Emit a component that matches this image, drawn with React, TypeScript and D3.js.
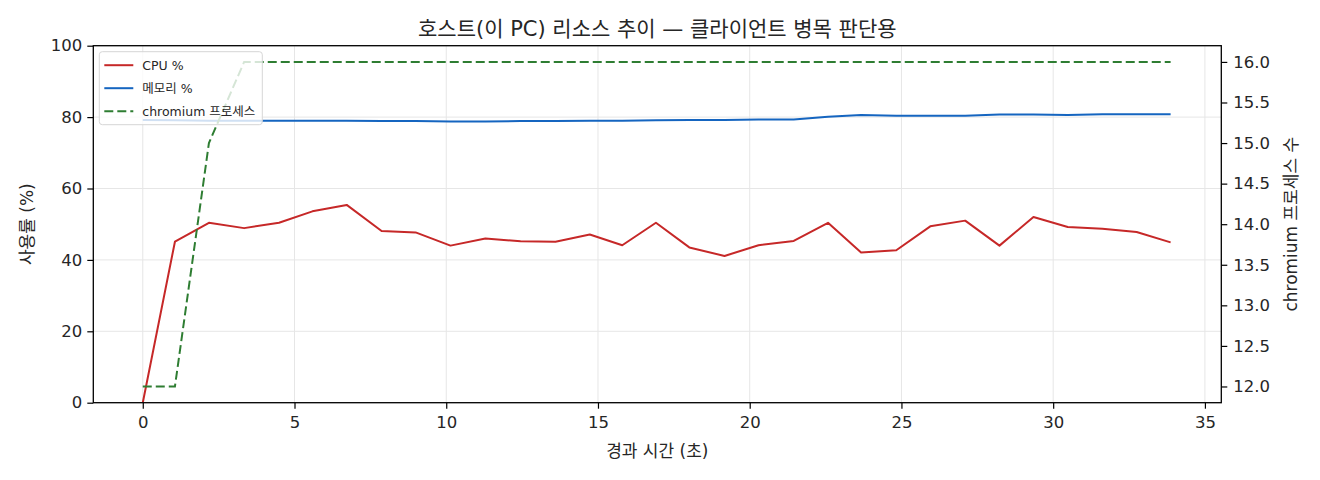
import { useEffect, useRef } from 'react';
import * as d3 from 'd3';

// elapsed time (s)
const times = [
  0, 1.06, 2.18, 3.34, 4.49, 5.59, 6.72, 7.87, 8.99, 10.14, 11.29, 12.45, 13.6, 14.73, 15.8,
  16.91, 18.01, 19.17, 20.29, 21.45, 22.58, 23.67, 24.83, 25.95, 27.1, 28.23, 29.35, 30.48,
  31.62, 32.75, 33.87,
];
const cpuPct = [
  0, 45.1, 50.4, 48.9, 50.4, 53.6, 55.4, 48.1, 47.7, 44.0, 46.0, 45.2, 45.1, 47.1, 44.1, 50.4,
  43.5, 41.1, 44.1, 45.3, 50.4, 42.1, 42.7, 49.4, 51.0, 44.0, 52.0, 49.2, 48.7, 47.8, 44.9,
];
const memPct = [
  79.2, 79.1, 79.0, 79.0, 79.0, 79.0, 79.0, 78.9, 78.9, 78.8, 78.8, 78.9, 78.9, 79.0, 79.0, 79.1,
  79.2, 79.2, 79.3, 79.3, 80.1, 80.6, 80.4, 80.4, 80.4, 80.7, 80.7, 80.6, 80.8, 80.8, 80.8,
];
const chromiumProcs = [
  12, 12, 15, 16, 16, 16, 16, 16, 16, 16, 16, 16, 16, 16, 16, 16, 16, 16, 16, 16, 16, 16, 16, 16,
  16, 16, 16, 16, 16, 16, 16,
];
const xLimits = [-1.63, 35.54];
const xTicks = [0, 5, 10, 15, 20, 25, 30, 35];
const leftTicks = [0, 20, 40, 60, 80, 100];
const rightTicks = [12, 12.5, 13, 13.5, 14, 14.5, 15, 15.5, 16];

const TITLE = '호스트(이 PC) 리소스 추이 — 클라이언트 병목 판단용';
const X_LABEL = '경과 시간 (초)';
const Y_LABEL = '사용률 (%)';
const Y2_LABEL = 'chromium 프로세스 수';

const COLORS = { cpu: '#c62828', mem: '#1565c0', proc: '#2e7d32' };
const FONT = '"DejaVu Sans", "Noto Sans CJK KR", sans-serif';

const W = 1320;
const H = 480;

export default function App() {
  const svgRef = useRef<SVGSVGElement>(null);

  useEffect(() => {
    if (!svgRef.current) return;
    const svg = d3.select(svgRef.current);
    svg.selectAll('*').remove();

    const margin = { top: 45.7, right: 98.7, bottom: 77.3, left: 93.3 };
    const innerWidth = W - margin.left - margin.right;
    const innerHeight = H - margin.top - margin.bottom;

    svg.append('rect').attr('width', W).attr('height', H).attr('fill', '#fff');

    const g = svg.append('g').attr('transform', `translate(${margin.left},${margin.top})`);

    // Scales (right axis gets matplotlib-like 5% margins)
    const x = d3.scaleLinear().domain(xLimits).range([0, innerWidth]);
    const y = d3.scaleLinear().domain([0, 100]).range([innerHeight, 0]);
    const [pMin, pMax] = d3.extent(chromiumProcs) as [number, number];
    const pPad = (pMax - pMin) * 0.05;
    const y2 = d3.scaleLinear().domain([pMin - pPad, pMax + pPad]).range([innerHeight, 0]);

    // Grid
    g.append('g')
      .selectAll('line')
      .data(xTicks.filter((t) => x(t) >= 0 && x(t) <= innerWidth))
      .join('line')
      .attr('x1', (d) => x(d))
      .attr('x2', (d) => x(d))
      .attr('y1', 0)
      .attr('y2', innerHeight)
      .attr('stroke', '#e6e6e6')
      .attr('stroke-width', 1);
    g.append('g')
      .selectAll('line')
      .data(leftTicks)
      .join('line')
      .attr('x1', 0)
      .attr('x2', innerWidth)
      .attr('y1', (d) => y(d))
      .attr('y2', (d) => y(d))
      .attr('stroke', '#e6e6e6')
      .attr('stroke-width', 1);

    // Lines
    const idx = d3.range(times.length);
    const lineOf = (vals: number[], scale: d3.ScaleLinear<number, number>) =>
      d3
        .line<number>()
        .x((i) => x(times[i]))
        .y((i) => scale(vals[i]))(idx);

    svg
      .append('defs')
      .append('clipPath')
      .attr('id', 'plot-clip')
      .append('rect')
      .attr('width', innerWidth)
      .attr('height', innerHeight);

    const lines = g.append('g').attr('clip-path', 'url(#plot-clip)');
    lines
      .append('path')
      .attr('d', lineOf(cpuPct, y))
      .attr('fill', 'none')
      .attr('stroke', COLORS.cpu)
      .attr('stroke-width', 2)
      .attr('stroke-linejoin', 'round');
    lines
      .append('path')
      .attr('d', lineOf(memPct, y))
      .attr('fill', 'none')
      .attr('stroke', COLORS.mem)
      .attr('stroke-width', 2)
      .attr('stroke-linejoin', 'round');
    lines
      .append('path')
      .attr('d', lineOf(chromiumProcs, y2))
      .attr('fill', 'none')
      .attr('stroke', COLORS.proc)
      .attr('stroke-width', 2)
      .attr('stroke-dasharray', '9,4');

    // Axes
    const styleAxis = (sel: d3.Selection<SVGGElement, unknown, null, undefined>) => {
      sel.select('.domain').remove();
      sel.selectAll('.tick line').attr('stroke', '#000').attr('stroke-width', 1.2);
      sel
        .selectAll('.tick text')
        .attr('fill', '#262626')
        .attr('font-family', FONT)
        .attr('font-size', 16.5);
    };

    g.append('g')
      .attr('transform', `translate(0,${innerHeight})`)
      .call(d3.axisBottom(x).tickValues(xTicks).tickFormat(d3.format('d')).tickSize(6).tickPadding(8))
      .call(styleAxis);
    g.append('g')
      .call(d3.axisLeft(y).tickValues(leftTicks).tickFormat(d3.format('d')).tickSize(6).tickPadding(5))
      .call(styleAxis);
    g.append('g')
      .attr('transform', `translate(${innerWidth},0)`)
      .call(d3.axisRight(y2).tickValues(rightTicks).tickFormat(d3.format('.1f')).tickSize(6).tickPadding(6))
      .call(styleAxis);

    // Frame
    g.append('rect')
      .attr('width', innerWidth)
      .attr('height', innerHeight)
      .attr('fill', 'none')
      .attr('stroke', '#000')
      .attr('stroke-width', 1.3);

    // Legend
    const legend = g.append('g').attr('transform', 'translate(6,6)');
    legend
      .append('rect')
      .attr('width', 163)
      .attr('height', 73)
      .attr('rx', 3)
      .attr('fill', 'rgba(255,255,255,0.8)')
      .attr('stroke', '#d6d6d6');
    const items = [
      { label: 'CPU %', color: COLORS.cpu, dash: null },
      { label: '메모리 %', color: COLORS.mem, dash: null },
      { label: 'chromium 프로세스', color: COLORS.proc, dash: '9,4' },
    ];
    items.forEach((it, i) => {
      const yy = 13.5 + i * 23;
      legend
        .append('line')
        .attr('x1', 5)
        .attr('x2', 34)
        .attr('y1', yy)
        .attr('y2', yy)
        .attr('stroke', it.color)
        .attr('stroke-width', 2)
        .attr('stroke-dasharray', it.dash);
      legend
        .append('text')
        .attr('x', 43)
        .attr('y', yy)
        .attr('dominant-baseline', 'central')
        .attr('font-family', FONT)
        .attr('font-size', 12.5)
        .attr('fill', '#262626')
        .text(it.label);
    });

    // Labels
    svg
      .append('text')
      .attr('x', margin.left + innerWidth / 2)
      .attr('y', 36)
      .attr('text-anchor', 'middle')
      .attr('font-family', FONT)
      .attr('font-size', 21)
      .attr('fill', '#262626')
      .text(TITLE);
    svg
      .append('text')
      .attr('x', margin.left + innerWidth / 2)
      .attr('y', 457)
      .attr('text-anchor', 'middle')
      .attr('font-family', FONT)
      .attr('font-size', 17)
      .attr('fill', '#262626')
      .text(X_LABEL);
    svg
      .append('text')
      .attr('transform', `translate(33,${margin.top + innerHeight / 2}) rotate(-90)`)
      .attr('text-anchor', 'middle')
      .attr('font-family', FONT)
      .attr('font-size', 17)
      .attr('fill', '#262626')
      .text(Y_LABEL);
    svg
      .append('text')
      .attr('transform', `translate(1297,${margin.top + innerHeight / 2}) rotate(-90)`)
      .attr('text-anchor', 'middle')
      .attr('font-family', FONT)
      .attr('font-size', 17)
      .attr('fill', '#262626')
      .text(Y2_LABEL);
  }, []);

  return (
    <div style={{ margin: -8 }}>
      <svg ref={svgRef} width={W} height={H} style={{ display: 'block' }} />
    </div>
  );
}
